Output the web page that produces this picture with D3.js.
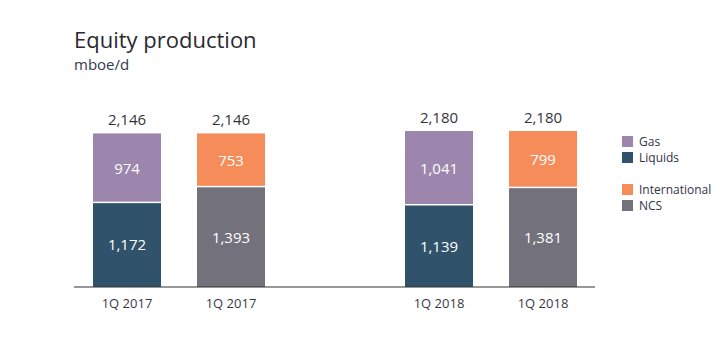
<!DOCTYPE html>
<html>
<head>
<meta charset="utf-8">
<script src="https://cdn.jsdelivr.net/npm/d3@7"></script>
<style>
  html, body { margin: 0; padding: 0; background: #ffffff; }
  svg { display: block; font-family: "Open Sans", "Noto Sans", sans-serif; }
</style>
</head>
<body>
<svg id="chart" width="728" height="345"></svg>
<script>
// Equity production, mboe/d — split by product (Gas/Liquids) and by area (International/NCS)
const categories = ["1Q 2017", "1Q 2017", "1Q 2018", "1Q 2018"];
const splitType  = ["product", "area", "product", "area"];
const lowerValues = [1172, 1393, 1139, 1381];   // Liquids / NCS
const upperValues = [974, 753, 1041, 799];      // Gas / International
const totals      = [2146, 2146, 2180, 2180];

const legendProduct = ["Gas", "Liquids"];
const legendArea    = ["International", "NCS"];

const colors = {
  Gas: "#9c86ad",
  Liquids: "#30536b",
  International: "#f68c5a",
  NCS: "#73727c"
};
const layerNames = {
  product: { lower: "Liquids", upper: "Gas" },
  area: { lower: "NCS", upper: "International" }
};

const svg = d3.select("#chart");
const fmt = d3.format(",");

// Five slots along the axis; the middle one stays empty to separate the two quarters
const slots = ["a", "b", "gap", "c", "d"];
const barSlots = ["a", "b", "c", "d"];
const x = d3.scalePoint().domain(slots).range([127, 543]);
const barWidth = 68;
const y = d3.scaleLinear().domain([0, 2180]).range([287, 131]);

const bars = categories.map((c, i) => ({
  cat: c, slot: barSlots[i], type: splitType[i],
  lower: lowerValues[i], upper: upperValues[i], total: totals[i]
}));

// Title
svg.append("text").attr("x", 74).attr("y", 48)
  .attr("font-size", 22).attr("fill", "#2a2a30").text("Equity production");
svg.append("text").attr("x", 74).attr("y", 70)
  .attr("font-size", 15).attr("fill", "#343a4e").text("mboe/d");

const g = svg.append("g");

// Lower segment
g.selectAll("rect.lower").data(bars).join("rect")
  .attr("class", "lower")
  .attr("x", d => x(d.slot) - barWidth / 2)
  .attr("width", barWidth)
  .attr("y", d => y(d.lower))
  .attr("height", d => y(0) - y(d.lower))
  .attr("fill", d => colors[layerNames[d.type].lower]);

// Upper segment, separated by a thin white gap
g.selectAll("rect.upper").data(bars).join("rect")
  .attr("class", "upper")
  .attr("x", d => x(d.slot) - barWidth / 2)
  .attr("width", barWidth)
  .attr("y", d => y(d.total))
  .attr("height", d => y(d.lower) - y(d.total) - 1.5)
  .attr("fill", d => colors[layerNames[d.type].upper]);

// Segment value labels
g.selectAll("text.lowerLbl").data(bars).join("text")
  .attr("class", "lowerLbl")
  .attr("x", d => x(d.slot))
  .attr("y", d => (y(d.lower) + y(0)) / 2)
  .attr("dy", "0.36em")
  .attr("text-anchor", "middle")
  .attr("font-size", 15).attr("fill", "#ffffff")
  .text(d => fmt(d.lower));

g.selectAll("text.upperLbl").data(bars).join("text")
  .attr("class", "upperLbl")
  .attr("x", d => x(d.slot))
  .attr("y", d => (y(d.total) + y(d.lower)) / 2)
  .attr("dy", "0.36em")
  .attr("text-anchor", "middle")
  .attr("font-size", 15).attr("fill", "#ffffff")
  .text(d => fmt(d.upper));

// Totals above bars
g.selectAll("text.total").data(bars).join("text")
  .attr("class", "total")
  .attr("x", d => x(d.slot))
  .attr("y", d => y(d.total) - 8)
  .attr("text-anchor", "middle")
  .attr("font-size", 15).attr("fill", "#34343c")
  .text(d => fmt(d.total));

// Baseline axis
const axisG = svg.append("g").attr("transform", `translate(0,${y(0)})`);
axisG.append("line")
  .attr("x1", 74).attr("x2", 595)
  .attr("stroke", "#333333").attr("stroke-width", 1.2);

axisG.selectAll("text.cat").data(bars).join("text")
  .attr("class", "cat")
  .attr("x", d => x(d.slot))
  .attr("y", 21)
  .attr("text-anchor", "middle")
  .attr("font-size", 13).attr("fill", "#3a3a44")
  .text(d => d.cat);

// Legend
const legendItems = [
  ...legendProduct.map((n, i) => ({ name: n, y: 136 + i * 16 })),
  ...legendArea.map((n, i) => ({ name: n, y: 184 + i * 16 }))
];
const lg = svg.append("g");
lg.selectAll("rect").data(legendItems).join("rect")
  .attr("x", 622).attr("y", d => d.y)
  .attr("width", 11).attr("height", 11)
  .attr("fill", d => colors[d.name]);
lg.selectAll("text").data(legendItems).join("text")
  .attr("x", 639).attr("y", d => d.y + 5.5)
  .attr("dy", "0.36em")
  .attr("font-size", 12).attr("fill", "#33334a")
  .text(d => d.name);
</script>
</body>
</html>
